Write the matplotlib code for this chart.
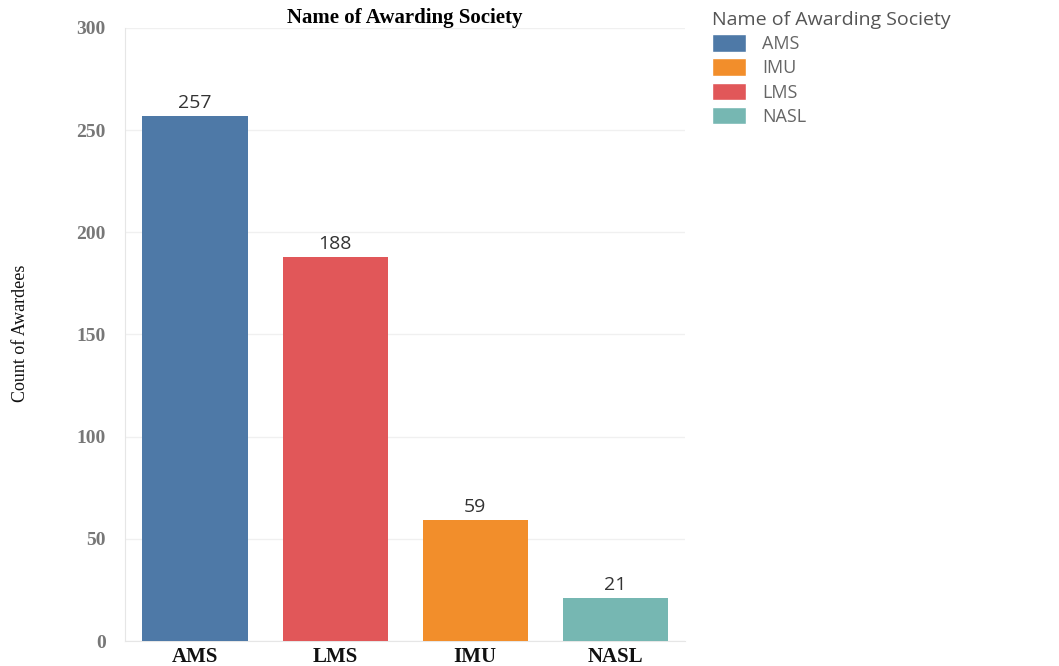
import matplotlib as mpl
mpl.use('Agg')
import matplotlib.pyplot as plt
from matplotlib.patches import Patch
import numpy as np

societies = ["AMS", "LMS", "IMU", "NASL"]
awardees = [257, 188, 59, 21]
colors = {"AMS": "#4e79a7", "IMU": "#f28e2b", "LMS": "#e15759", "NASL": "#76b7b2"}
legend_order = ["AMS", "IMU", "LMS", "NASL"]
yticks = [0, 50, 100, 150, 200, 250, 300]

fig = plt.figure(figsize=(10.59, 6.66), dpi=100)
ax = fig.add_axes([0.118, 0.0375, 0.529, 0.9205])

x = np.arange(len(societies))
ax.bar(x, awardees, width=0.75, color=[colors[s] for s in societies], zorder=3)
for xi, v in zip(x, awardees):
  ax.text(xi, v + 2, str(v), ha='center', va='bottom', fontsize=14,
          family='Open Sans', color='#333333', zorder=4)

ax.set_xlim(-0.5, 3.5)
ax.set_ylim(0, 300)
ax.set_yticks(yticks)
ax.set_xticks(x)
ax.set_xticklabels(societies, family='Liberation Serif', fontweight='bold',
                   fontsize=15, color='#111111')
ax.set_yticklabels([str(t) for t in yticks], family='Liberation Serif',
                   fontweight='bold', fontsize=14, color='#777777')
ax.tick_params(axis='both', length=0)
ax.tick_params(axis='y', pad=14)
ax.tick_params(axis='x', pad=4)
ax.grid(axis='y', color='#f0f0f0', lw=1, zorder=0)
for s in ['top', 'right']:
  ax.spines[s].set_visible(False)
ax.spines['left'].set_color('#e6e6e6')
ax.spines['bottom'].set_color('#e6e6e6')

ax.set_title("Name of Awarding Society", family='Liberation Serif',
             fontweight='bold', fontsize=15, pad=3)
fig.text(0.019, 0.5, "Count of Awardees", rotation=90, ha='center', va='center',
         family='Liberation Serif', fontsize=13, color='#111111')

handles = [Patch(facecolor=colors[s], edgecolor='white', label=s) for s in legend_order]
leg = fig.legend(handles=handles, loc='upper left', bbox_to_anchor=(0.662, 1.0),
                 frameon=False, title="Name of Awarding Society",
                 prop={'family': 'Open Sans', 'size': 13},
                 title_fontproperties={'family': 'Open Sans', 'size': 14},
                 handlelength=1.9, handleheight=1.1, labelspacing=0.3,
                 handletextpad=0.9, alignment='left', borderpad=0.1)
leg.get_title().set_color('#555555')
for t in leg.get_texts():
  t.set_color('#666666')

plt.savefig('out.png', dpi=100)
